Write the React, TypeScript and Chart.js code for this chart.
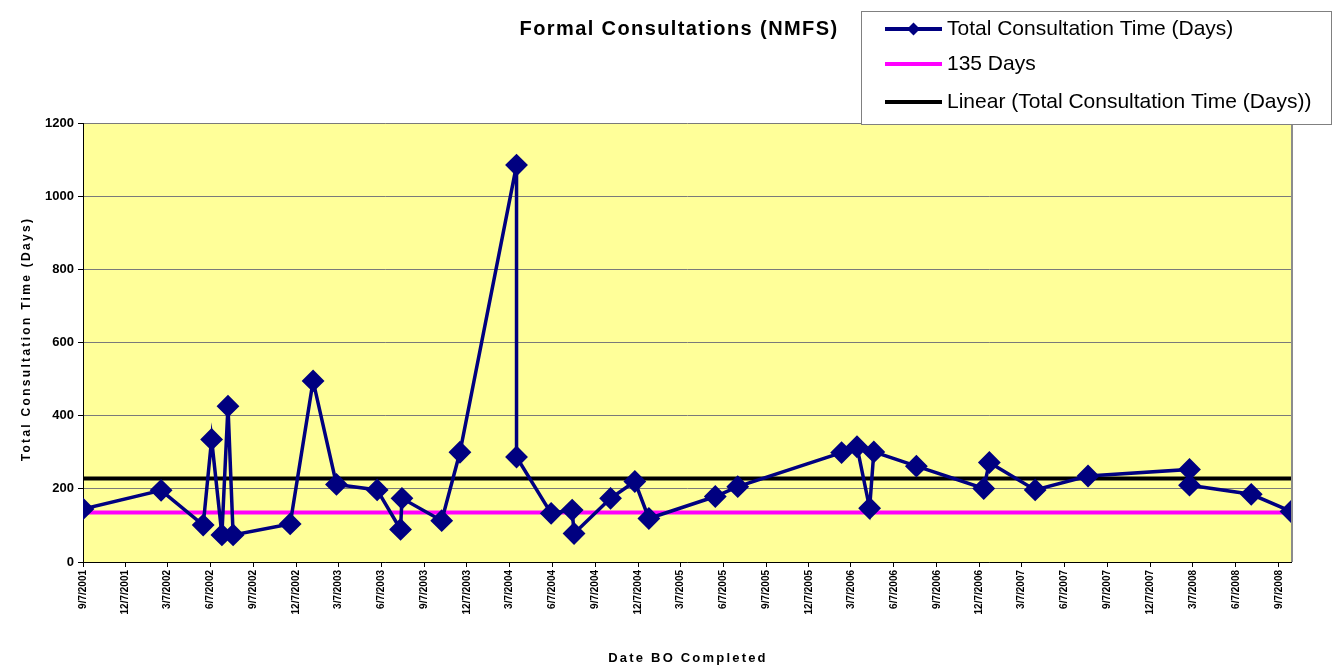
import React, { useEffect, useRef } from "react";
import { Chart, registerables } from "chart.js";

Chart.register(...registerables);

const chartTitle = "Formal Consultations (NMFS)";
const xAxisTitle = "Date BO Completed";
const yAxisTitle = "Total Consultation Time (Days)";
const seriesLabels = [
  "Total Consultation Time (Days)",
  "135 Days",
  "Linear (Total Consultation Time (Days))",
];

const boDates = [
  "9/7/2001", "2/21/2002", "5/22/2002", "6/9/2002", "7/1/2002", "7/14/2002", "7/25/2002",
  "11/24/2002", "1/12/2003", "3/3/2003", "5/29/2003", "7/18/2003", "7/21/2003", "10/14/2003",
  "11/22/2003", "3/22/2004", "3/22/2004", "6/4/2004", "7/19/2004", "7/23/2004", "10/9/2004",
  "11/30/2004", "12/30/2004", "5/21/2005", "7/8/2005", "2/15/2006", "3/20/2006", "4/16/2006",
  "4/25/2006", "7/25/2006", "12/16/2006", "12/28/2006", "4/5/2007", "7/27/2007", "2/29/2008",
  "2/29/2008", "7/10/2008", "10/3/2008",
];
const consultDays = [
  145, 196, 101, 335, 74, 426, 74,
  104, 495, 212, 197, 89, 174, 113,
  300, 1085, 287, 133, 142, 78, 174,
  220, 119, 179, 206, 299, 315, 147,
  301, 262, 201, 272, 197, 235, 253,
  210, 185, 138,
];
const thresholdDays = 135;
const trendDays = [228, 228];

const xAxisStart = "9/7/2001";
const xAxisEnd = "10/3/2008";
const xTickLabels = [
  "9/7/2001", "12/7/2001", "3/7/2002", "6/7/2002", "9/7/2002", "12/7/2002", "3/7/2003",
  "6/7/2003", "9/7/2003", "12/7/2003", "3/7/2004", "6/7/2004", "9/7/2004", "12/7/2004",
  "3/7/2005", "6/7/2005", "9/7/2005", "12/7/2005", "3/7/2006", "6/7/2006", "9/7/2006",
  "12/7/2006", "3/7/2007", "6/7/2007", "9/7/2007", "12/7/2007", "3/7/2008", "6/7/2008",
  "9/7/2008",
];
const yMin = 0;
const yMax = 1200;
const yStep = 200;

const NAVY = "#000080";
const MAGENTA = "#FF00FF";
const FONT = 'Arial, "Liberation Sans", sans-serif';

function toDay(s: string): number {
  const [m, d, y] = s.split("/").map(Number);
  return Date.UTC(y, m - 1, d) / 86400000;
}

const decorPlugin = {
  id: "decor",
  beforeDraw(chart: any) {
    const { ctx, chartArea: a } = chart;
    ctx.save();
    ctx.fillStyle = "#FFFF99";
    ctx.fillRect(a.left, a.top, a.right - a.left, a.bottom - a.top);
    ctx.strokeStyle = "#8c8c8c";
    ctx.lineWidth = 2;
    ctx.beginPath();
    ctx.moveTo(a.right + 1, a.top);
    ctx.lineTo(a.right + 1, a.bottom);
    ctx.stroke();
    ctx.restore();
  },
  afterDraw(chart: any) {
    const { ctx, chartArea: a } = chart;
    ctx.save();
    ctx.fillStyle = "#000";
    ctx.textBaseline = "middle";
    ctx.textAlign = "center";

    // Chart title
    ctx.font = `bold 20px ${FONT}`;
    (ctx as any).letterSpacing = "1.4px";
    ctx.fillText(chartTitle, 679, 29);

    // X axis title
    ctx.font = `bold 13px ${FONT}`;
    (ctx as any).letterSpacing = "2.2px";
    ctx.fillText(xAxisTitle, (a.left + a.right) / 2 + 1, 658);

    // Y axis title
    ctx.save();
    ctx.translate(27, 339);
    ctx.rotate(-Math.PI / 2);
    ctx.font = `bold 12px ${FONT}`;
    (ctx as any).letterSpacing = "2.3px";
    ctx.fillText(yAxisTitle, 0, 0);
    ctx.restore();
    (ctx as any).letterSpacing = "0px";

    // Legend box
    const bx = 861.5, by = 11.5, bw = 470, bh = 113;
    ctx.fillStyle = "#fff";
    ctx.fillRect(bx, by, bw, bh);
    ctx.strokeStyle = "#808080";
    ctx.lineWidth = 1;
    ctx.strokeRect(bx, by, bw, bh);

    const rows = [29, 64, 102];
    const colors = [NAVY, MAGENTA, "#000"];
    const ds = chart.data.datasets;
    for (let i = 0; i < 3; i++) {
      const y = rows[i];
      ctx.strokeStyle = colors[i];
      ctx.lineWidth = 4;
      ctx.beginPath();
      ctx.moveTo(885, y);
      ctx.lineTo(942, y);
      ctx.stroke();
      if (i === 0) {
        ctx.fillStyle = NAVY;
        ctx.beginPath();
        ctx.moveTo(913.5, y - 6.5);
        ctx.lineTo(920, y);
        ctx.lineTo(913.5, y + 6.5);
        ctx.lineTo(907, y);
        ctx.closePath();
        ctx.fill();
      }
      ctx.fillStyle = "#000";
      ctx.textAlign = "left";
      ctx.font = `21px ${FONT}`;
      ctx.fillText(ds[i].label, 947, y);
    }
    ctx.restore();
  },
};

export default function App() {
  const canvasRef = useRef<HTMLCanvasElement | null>(null);

  useEffect(() => {
    document.body.style.margin = "0";
    const canvas = canvasRef.current;
    if (!canvas) return;

    const xMin = toDay(xAxisStart);
    const xMax = toDay(xAxisEnd);
    const mainPoints = boDates.map((d, i) => ({ x: toDay(d), y: consultDays[i] }));

    const chart = new Chart(canvas, {
      type: "line",
      data: {
        datasets: [
          {
            label: seriesLabels[0],
            data: mainPoints,
            borderColor: NAVY,
            backgroundColor: NAVY,
            borderWidth: 3.5,
            pointStyle: "rectRot",
            pointRadius: 10,
            pointBorderWidth: 2,
            pointBackgroundColor: NAVY,
            pointBorderColor: NAVY,
            tension: 0,
            order: 0,
          },
          {
            label: seriesLabels[1],
            data: [
              { x: xMin, y: thresholdDays },
              { x: xMax, y: thresholdDays },
            ],
            borderColor: MAGENTA,
            backgroundColor: MAGENTA,
            borderWidth: 4,
            pointRadius: 0,
            order: 1,
          },
          {
            label: seriesLabels[2],
            data: [
              { x: xMin, y: trendDays[0] },
              { x: xMax, y: trendDays[1] },
            ],
            borderColor: "#000",
            backgroundColor: "#000",
            borderWidth: 4,
            pointRadius: 0,
            order: 2,
          },
        ],
      },
      options: {
        responsive: true,
        maintainAspectRatio: false,
        animation: false,
        events: [],
        layout: { padding: { left: 0, right: 42, top: 123, bottom: 0 } },
        plugins: {
          legend: { display: false },
          title: { display: false },
          tooltip: { enabled: false },
        },
        scales: {
          x: {
            type: "linear",
            min: xMin,
            max: xMax,
            afterBuildTicks: (scale: any) => {
              scale.ticks = xTickLabels.map((l) => ({ value: toDay(l) }));
            },
            afterFit: (scale: any) => {
              scale.height = 104;
            },
            ticks: {
              autoSkip: false,
              maxRotation: 90,
              minRotation: 90,
              padding: 3,
              color: "#000",
              font: { family: FONT, size: 10, weight: "bold" },
              callback: (_v: any, i: number) => xTickLabels[i],
            },
            grid: {
              drawOnChartArea: false,
              color: "#000",
              tickLength: 5,
            },
            border: { display: true, color: "#000", width: 1 },
          },
          y: {
            type: "linear",
            min: yMin,
            max: yMax,
            afterFit: (scale: any) => {
              scale.width = 83;
            },
            ticks: {
              stepSize: yStep,
              padding: 4,
              color: "#000",
              font: { family: FONT, size: 13, weight: "bold" },
              callback: (v: any) => String(v),
            },
            grid: {
              color: "#7a7a7a",
              tickColor: "#000",
              tickLength: 5,
              lineWidth: 1,
            },
            border: { display: true, color: "#000", width: 1 },
          },
        },
      },
      plugins: [decorPlugin],
    });

    return () => chart.destroy();
  }, []);

  return (
    <div style={{ position: "relative", width: "1333px", height: "666px" }}>
      <canvas ref={canvasRef} />
    </div>
  );
}
